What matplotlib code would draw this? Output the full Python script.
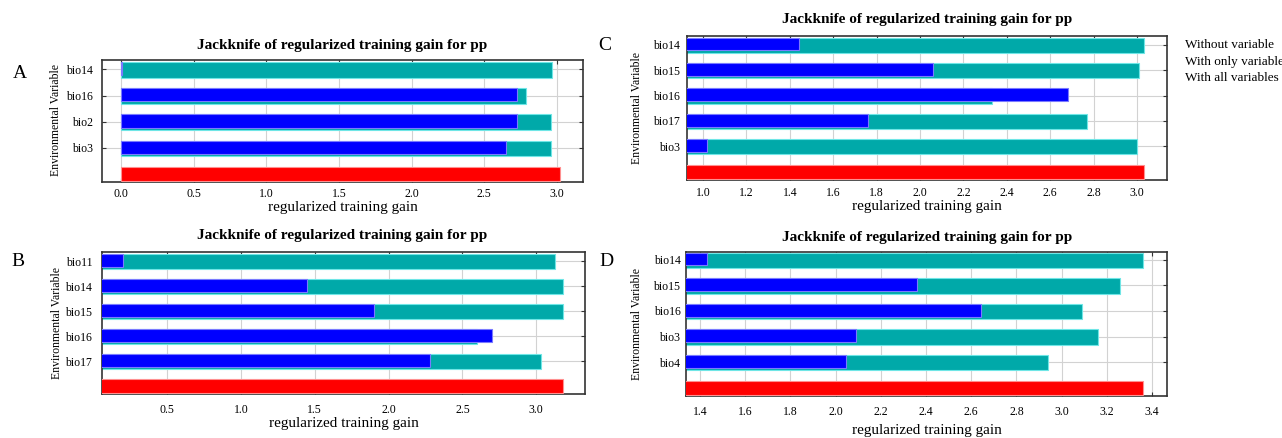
import numpy as np
import matplotlib
matplotlib.use("Agg")
import matplotlib.pyplot as plt

plt.rcParams['font.family'] = ['Liberation Serif', 'DejaVu Serif']

# ---------------- data ----------------
title = "Jackknife of regularized training gain for pp"
xlabel = "regularized training gain"
ylabel = "Environmental Variable"
legend_labels = ["Without variable", "With only variable", "With all variables"]

vars_A = ["bio14", "bio16", "bio2", "bio3"]
without_A = [2.97, 2.79, 2.96, 2.96]
only_A = [0.01, 2.725, 2.725, 2.65]
all_A = 3.02

vars_B = ["bio11", "bio14", "bio15", "bio16", "bio17"]
without_B = [3.13, 3.18, 3.18, 2.60, 3.03]
only_B = [0.20, 1.45, 1.90, 2.70, 2.28]
all_B = 3.18

vars_C = ["bio14", "bio15", "bio16", "bio17", "bio3"]
without_C = [3.03, 3.01, 2.33, 2.77, 3.00]
only_C = [1.44, 2.06, 2.68, 1.76, 1.02]
all_C = 3.03

vars_D = ["bio14", "bio15", "bio16", "bio3", "bio4"]
without_D = [3.36, 3.26, 3.09, 3.16, 2.94]
only_D = [1.43, 2.36, 2.645, 2.09, 2.045]
all_D = 3.36

TEAL, TEAL_E = "#00a9a9", "#6fe6e6"
BLUE, BLUE_E = "#0000ff", "#7a7aff"
RED, RED_E = "#ff0000", "#ff9090"

W, H = 1282, 438
fig = plt.figure(figsize=(W / 100, H / 100), dpi=100)


def px_axes(left, top, right, bottom):
    return fig.add_axes([left / W, 1 - bottom / H, (right - left) / W, (bottom - top) / H])


def panel(ax, names, without, only, allv, xlim, ylim, ticks, tfmt, ypad, xpad, lpad):
    n = len(names)
    ypos = np.arange(n, 0, -1)
    ax.set_axisbelow(True)
    ax.grid(True, color="#d2d2d2", linewidth=0.8)
    ax.barh(ypos - 0.02, without, height=0.6, color=TEAL, edgecolor=TEAL_E, linewidth=0.8, zorder=2)
    ax.barh(ypos + 0.03, only, height=0.5, color=BLUE, edgecolor=BLUE_E, linewidth=0.8, zorder=3)
    ax.barh([0], [allv], height=0.56, color=RED, edgecolor=RED_E, linewidth=0.8, zorder=3)
    ax.set_xlim(*xlim)
    ax.set_ylim(*ylim)
    ax.set_yticks(ypos)
    ax.set_yticklabels(names)
    ax.set_xticks(ticks)
    ax.set_xticklabels([tfmt.format(t) for t in ticks])
    ax.tick_params(axis="both", direction="in", length=3, width=0.8, color="#333333",
                   top=True, right=True, labelsize=8.5)
    ax.tick_params(axis="y", pad=ypad)
    ax.tick_params(axis="x", pad=xpad)
    for s in ax.spines.values():
        s.set_color("#333333")
        s.set_linewidth(1.2)
    ax.set_xlabel(xlabel, fontsize=11, labelpad=lpad)


axA = px_axes(102, 60, 583, 182)
panel(axA, vars_A, without_A, only_A, all_A, (-0.13, 3.18), (-0.3, 4.36),
      np.arange(0, 3.01, 0.5), "{:.1f}", 6.5, 4.5, 0.5)

axB = px_axes(102, 252, 585, 394)
panel(axB, vars_B, without_B, only_B, all_B, (0.06, 3.33), (-0.32, 5.38),
      np.arange(0.5, 3.01, 0.5), "{:.1f}", 7, 7, 1)

axC = px_axes(687, 36, 1167, 180)
panel(axC, vars_C, without_C, only_C, all_C, (0.926, 3.138), (-0.33, 5.35),
      np.arange(1.0, 3.01, 0.2), "{:.1f}", 5, 5, 0.5)

axD = px_axes(686, 252, 1167, 396)
panel(axD, vars_D, without_D, only_D, all_D, (1.338, 3.466), (-0.32, 5.3),
      np.arange(1.4, 3.41, 0.2), "{:.1f}", 4, 7, 4.5)


def ftext(x, y, s, **kw):
    fig.text(x / W, 1 - y / H, s, **kw)


# titles
for cx, cy in [(342, 45), (342, 236), (927, 20), (927, 238)]:
    ftext(cx, cy, title, ha="center", va="center", fontsize=11, fontweight="bold")

# panel letters
for lx, ly, s in [(20, 73, "A"), (18, 262, "B"), (605, 45, "C"), (606, 262, "D")]:
    ftext(lx, ly, s, ha="center", va="center", fontsize=14)

# y labels
for lx, ly in [(56, 120), (57, 323), (637, 108), (637, 324)]:
    ftext(lx, ly, ylabel, ha="center", va="center", rotation=90, fontsize=8.5)

# legend text
for i, s in enumerate(legend_labels):
    ftext(1185, 45 + 16.5 * i, s, ha="left", va="center", fontsize=9.5)

fig.savefig("out.png", dpi=100)
